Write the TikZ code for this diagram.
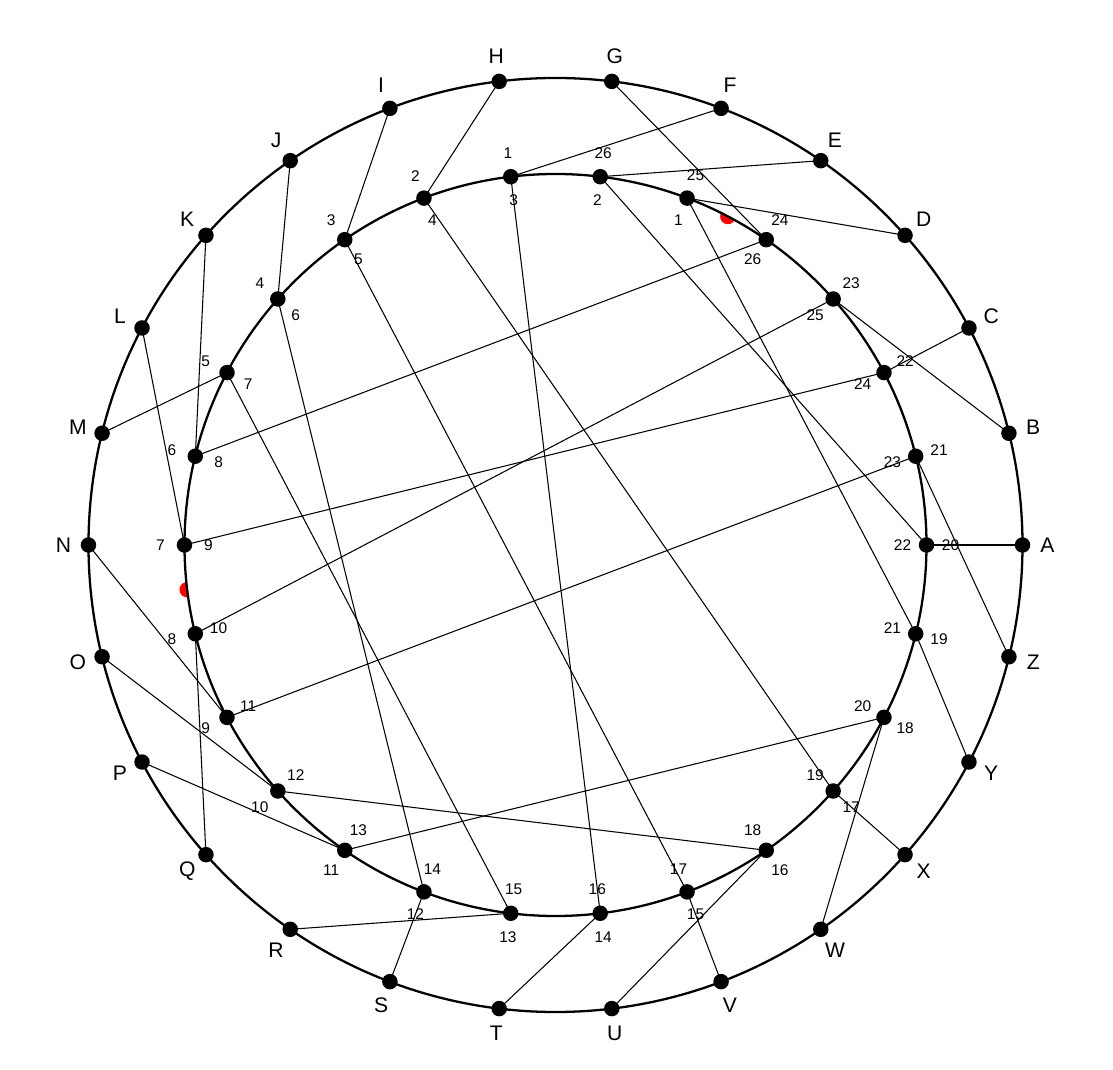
\documentclass[tikz,border=0pt]{standalone}
\usepackage{fontspec}
\setmainfont{Liberation Sans}
\usepackage{xcolor}
\usepackage{tikz}
\usetikzlibrary{calc}

\begin{document}
\begin{tikzpicture}
		  \useasboundingbox (-11.11,-10.5) rectangle (11.15,10.9);
		  % notch marks
		  \fill[red,rotate=62.308] (7.42,0.155) arc (90:270:0.155) -- cycle;
		  \fill[red,rotate=186.923] (7.42,-0.155) arc (-90:90:0.155) -- cycle;
		  \draw[line width=1.3pt] (0,0) circle (9.34cm);
		  \draw[line width=1.3pt] (0,0) circle (7.42cm);
		  \foreach \x /\alph in {
		  		0/A, 13.846/B, 27.692/C, 41.538/D, 55.385/E, 69.231/F,
		  		83.077/G, 96.923/H, 110.769/I, 124.615/J, 138.462/K,
		  		152.308/L, 166.154/M, 180/N, 193.846/O, 207.692/P,
		  		221.538/Q, 235.385/R, 249.231/S, 263.077/T, 276.923/U,
		  		290.769/V, 304.615/W, 318.462/X, 332.308/Y, 346.154/Z}{
		  	\coordinate (o\alph) at (\x:9.34cm);
		  	\coordinate (i\alph) at (\x:7.42cm);
		  }
		  % letters to contacts
		  \foreach \alpha/\alphb in {A/A,B/D,C/C,D/F,E/G,F/H,G/E,H/I,I/J,J/K,K/M,L/N,M/L,N/P,O/Q,P/R,Q/O,R/T,S/S,T/U,U/W,V/V,W/Y,X/X,Y/Z,Z/B}%
		  {%
		   \draw[line width=.6pt] (o\alpha) -- (i\alphb);%
		  }
		  % contact pairs
		  \foreach \alpha/\alphb in {A/G,B/P,C/N,D/O,E/M,F/Z,H/U,I/X,J/V,K/S,L/T,Q/W,R/Y}%
		  {%
		   \draw[line width=.6pt] (i\alpha) -- (i\alphb);%
		  }
		  \foreach \x /\alph/\inn/\out in {
		  		0/A/22/20, 13.846/B/23/21, 27.692/C/24/22, 41.538/D/25/23,
		  		55.385/E/26/24, 69.231/F/1/25, 83.077/G/2/26, 96.923/H/3/1,
		  		110.769/I/4/2, 124.615/J/5/3, 138.462/K/6/4, 152.308/L/7/5,
		  		166.154/M/8/6, 180/N/9/7, 193.846/O/10/8, 207.692/P/11/9,
		  		221.538/Q/12/10, 235.385/R/13/11, 249.231/S/14/12, 263.077/T/15/13,
		  		276.923/U/16/14, 290.769/V/17/15, 304.615/W/18/16, 318.462/X/19/17,
		  		332.308/Y/20/18, 346.154/Z/21/19}{
		  	\node[circle,inner sep=0pt,minimum size=3.1mm,fill=black] (o\alph) at (\x:9.34cm) {};
		  	\node[circle,inner sep=0pt,minimum size=3.1mm,fill=black] (i\alph) at (\x:7.42cm) {};
		  	\node[inner sep=0pt] (l\alph) at (\x:9.84cm) {\fontsize{12}{14}\selectfont\alph};
		  	\node[inner sep=0pt] (a\alph) at (\x:6.94cm) {\fontsize{8.8}{10}\selectfont\inn};
		  	\node[inner sep=0pt] (b\alph) at (\x:7.9cm) {\fontsize{8.8}{10}\selectfont\out};
		  }
\end{tikzpicture}
\end{document}
